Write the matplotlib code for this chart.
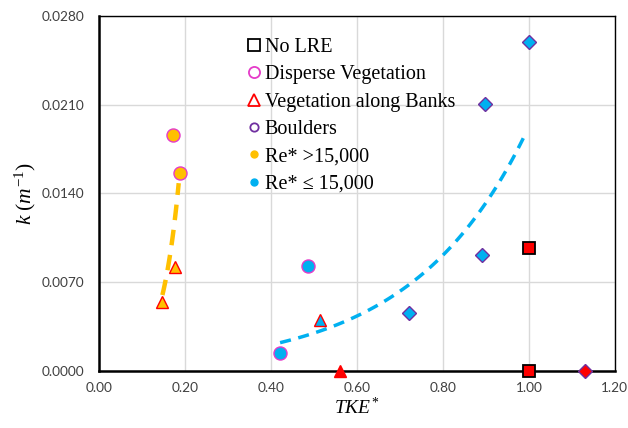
import matplotlib
matplotlib.use("Agg")
import matplotlib.pyplot as plt
from matplotlib.lines import Line2D
from matplotlib.ticker import FormatStrFormatter, MultipleLocator
import numpy as np

plt.rcParams['mathtext.fontset'] = 'custom'
plt.rcParams['mathtext.rm'] = 'Liberation Serif'
plt.rcParams['mathtext.it'] = 'Liberation Serif:italic'

# data (TKE*, k)
orange_circ_x = [0.171, 0.188]
orange_circ_k = [0.0186, 0.0156]
orange_tri_x = [0.147, 0.177]
orange_tri_k = [0.0054, 0.0082]

blue_circ_x = [0.421, 0.485]
blue_circ_k = [0.00136, 0.0083]
blue_tri_x = [0.513]
blue_tri_k = [0.0040]
blue_dia_x = [0.721, 0.891, 0.899, 1.0]
blue_dia_k = [0.00452, 0.00912, 0.0211, 0.0260]

red_sq_x = [1.0, 1.0]
red_sq_k = [0.0097, 0.0]
red_tri_x = [0.56]
red_tri_k = [0.0]
red_dia_x = [1.13]
red_dia_k = [0.0]

# exponential trendlines k = a*exp(b*TKE*), estimated from the chart
orange_trend = (0.000178, 23.9, 0.147, 0.185)
blue_trend = (0.000458, 3.74, 0.421, 0.99)

ORANGE = '#FFC000'
BLUE = '#00B0F0'
PINK = '#E53BC9'
RED = '#FF0000'
PURPLE = '#7030A0'


def trend(a, b, x0, x1):
    xx = np.linspace(x0, x1, 100)
    return xx, a * np.exp(b * xx)


fig = plt.figure(figsize=(6.28, 4.28), dpi=100)
ax = fig.add_axes([0.158, 0.134, 0.821, 0.828])

ox, ok = trend(*orange_trend)
ax.plot(ox, ok, color=ORANGE, lw=3.2, dashes=(3.5, 2.2), zorder=2)
bx, bk = trend(*blue_trend)
ax.plot(bx, bk, color=BLUE, lw=2.5, dashes=(3.2, 2.2), zorder=2)

kw = dict(ls='none', clip_on=False, zorder=3)
ax.plot(orange_circ_x, orange_circ_k, 'o', ms=9.4, mfc=ORANGE, mec=PINK, mew=1.0, **kw)
ax.plot(orange_tri_x, orange_tri_k, '^', ms=8.5, mfc=ORANGE, mec=RED, mew=1.0, **kw)
ax.plot(blue_circ_x, blue_circ_k, 'o', ms=9.4, mfc=BLUE, mec=PINK, mew=1.0, **kw)
ax.plot(blue_tri_x, blue_tri_k, '^', ms=8.5, mfc=BLUE, mec=RED, mew=1.0, **kw)
ax.plot(blue_dia_x, blue_dia_k, 'D', ms=7, mfc=BLUE, mec=PURPLE, mew=1.0, **kw)
ax.plot(red_sq_x, red_sq_k, 's', ms=9.2, mfc=RED, mec='black', mew=1.3, **kw)
ax.plot(red_tri_x, red_tri_k, '^', ms=9, mfc=RED, mec=RED, mew=1.0, **kw)
ax.plot(red_dia_x, red_dia_k, 'D', ms=7, mfc=RED, mec=PURPLE, mew=1.0, **kw)

ax.set_xlim(0, 1.2)
ax.set_ylim(0, 0.028)
ax.xaxis.set_major_locator(MultipleLocator(0.2))
ax.yaxis.set_major_locator(MultipleLocator(0.007))
ax.xaxis.set_major_formatter(FormatStrFormatter('%.2f'))
ax.yaxis.set_major_formatter(FormatStrFormatter('%.4f'))
ax.grid(True, color='#D9D9D9', lw=1.0)
ax.set_axisbelow(True)
ax.tick_params(length=0, labelsize=9.8)
ax.tick_params(axis='x', pad=8)
ax.tick_params(axis='y', pad=11)
for lab in ax.get_xticklabels() + ax.get_yticklabels():
    lab.set_family('Lato')
    lab.set_color('#404040')
for s in ['top', 'right']:
    ax.spines[s].set_linewidth(1.0)
for s in ['left', 'bottom']:
    ax.spines[s].set_linewidth(1.8)

ax.set_xlabel(r'$TKE^{*}$', fontsize=14, labelpad=2)
ax.set_ylabel(r'$k\ (m^{-1})$', fontsize=15.5, labelpad=2)

handles = [
    Line2D([], [], ls='none', marker='s', ms=8, mfc='none', mec='black', mew=1.3),
    Line2D([], [], ls='none', marker='o', ms=8, mfc='none', mec=PINK, mew=1.3),
    Line2D([], [], ls='none', marker='^', ms=8.5, mfc='none', mec=RED, mew=1.3),
    Line2D([], [], ls='none', marker='o', ms=6, mfc='none', mec=PURPLE, mew=1.3),
    Line2D([], [], ls='none', marker='o', ms=5, mfc=ORANGE, mec=ORANGE),
    Line2D([], [], ls='none', marker='o', ms=5, mfc=BLUE, mec=BLUE),
]
labels = ['No LRE', 'Disperse Vegetation', 'Vegetation along Banks', 'Boulders',
          'Re* >15,000', 'Re* \u2264 15,000']
ax.legend(handles, labels, loc='upper left', bbox_to_anchor=(0.272, 0.962),
          borderaxespad=0, frameon=False, handlelength=0.6, handletextpad=0.25,
          labelspacing=0.41, prop={'family': 'Liberation Serif', 'size': 14.5})

fig.savefig('out.png', dpi=100)
